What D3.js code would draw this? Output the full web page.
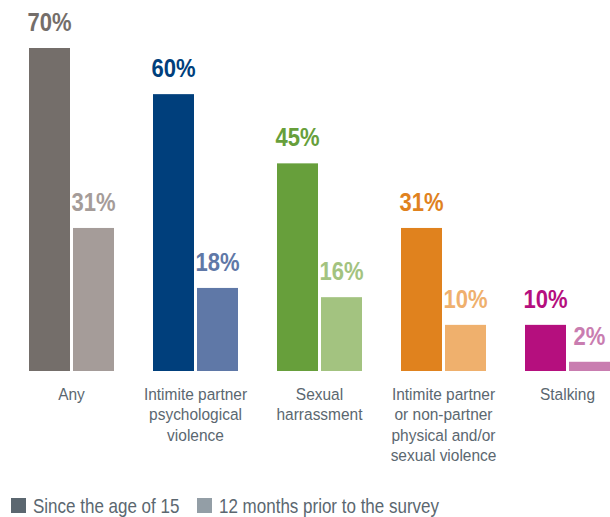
<!DOCTYPE html>
<html>
<head>
<meta charset="utf-8">
<script src="https://cdn.jsdelivr.net/npm/d3@7"></script>
<style>
  body { margin: 0; background: #fff; }
  text { font-family: "Liberation Sans", Arial, sans-serif; }
</style>
</head>
<body id="body">
<script>
var categories = [
    ["Any"],
    ["Intimite partner", "psychological", "violence"],
    ["Sexual", "harrassment"],
    ["Intimite partner", "or non-partner", "physical and/or", "sexual violence"],
    ["Stalking"]
];
var sinceAge15 = [70, 60, 45, 31, 10];
var last12Months = [31, 18, 16, 10, 2];
var seriesNames = ["Since the age of 15", "12 months prior to the survey"];

var darkColors = ["#746e6a", "#003f7c", "#679f3b", "#e0821e", "#b50f7e"];
var lightColors = ["#a59c99", "#5f78a7", "#a3c380", "#efb06d", "#c97db0"];
var legendColors = ["#5b6770", "#939ea6"];

var width = 610, height = 517;
// the original uses a condensed face, squeeze Liberation Sans to match
var squeeze = 0.85;

var svg = d3.select("body").append("svg")
    .attr("width", width)
    .attr("height", height);

var x = d3.scaleBand()
    .domain(d3.range(categories.length))
    .range([29, 610])
    .paddingInner(39 / 124)
    .paddingOuter(0);

var xSub = d3.scaleBand()
    .domain([0, 1])
    .range([0, x.bandwidth()])
    .paddingInner(3 / 44);

var y = d3.scaleLinear()
    .domain([0, 70])
    .range([371, 48]);

var data = categories.map(function (c, i) {
    return [
        { i: i, s: 0, v: sinceAge15[i], color: darkColors[i] },
        { i: i, s: 1, v: last12Months[i], color: lightColors[i] }
    ];
});

var g = svg.selectAll(".group")
    .data(data)
    .enter().append("g")
    .attr("class", "group")
    .attr("transform", function (d, i) { return "translate(" + x(i) + ",0)"; });

g.selectAll("rect")
    .data(function (d) { return d; })
    .enter().append("rect")
    .attr("x", function (d) { return xSub(d.s); })
    .attr("y", function (d) { return y(d.v); })
    .attr("width", xSub.bandwidth())
    .attr("height", function (d) { return y(0) - y(d.v); })
    .style("fill", function (d) { return d.color; });

g.selectAll(".val")
    .data(function (d) { return d; })
    .enter().append("text")
    .attr("class", "val")
    .attr("transform", function (d) {
        return "translate(" + (xSub(d.s) + xSub.bandwidth() / 2) + "," + (y(d.v) - 17) + ") scale(0.88,1)";
    })
    .attr("text-anchor", "middle")
    .style("font-size", "25px")
    .style("font-weight", "bold")
    .style("fill", function (d) { return d.color; })
    .text(function (d) { return d.v + "%"; });

// category labels under the bars
var labels = svg.selectAll(".cat")
    .data(categories)
    .enter().append("text")
    .attr("class", "cat")
    .attr("text-anchor", "middle")
    .attr("transform", function (d, i) {
        return "translate(" + (x(i) + x.bandwidth() / 2) + ",400) scale(0.91,1)";
    })
    .style("font-size", "17px")
    .style("fill", "#5b6770");

labels.selectAll("tspan")
    .data(function (d) { return d; })
    .enter().append("tspan")
    .attr("x", 0)
    .attr("y", function (d, j) { return j * 20.5; })
    .text(function (d) { return d; });

// legend
var legendX = [11, 197];
var legend = svg.selectAll(".legend")
    .data(seriesNames)
    .enter().append("g")
    .attr("class", "legend")
    .attr("transform", function (d, i) { return "translate(" + legendX[i] + ",498)"; });

legend.append("rect")
    .attr("width", 15)
    .attr("height", 15)
    .style("fill", function (d, i) { return legendColors[i]; });

legend.append("text")
    .attr("transform", "translate(22,15) scale(" + squeeze + ",1)")
    .style("font-size", "20px")
    .style("fill", "#5b6770")
    .text(function (d) { return d; });
</script>
</body>
</html>
